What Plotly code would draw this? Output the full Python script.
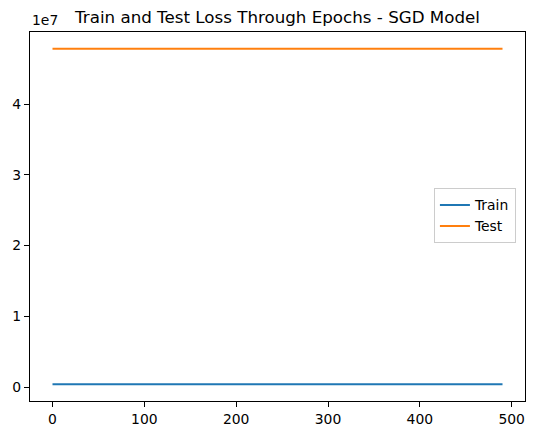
import plotly.graph_objects as go

epochs = [0, 10, 20, 30, 40, 50, 60, 70, 80, 90,
          100, 110, 120, 130, 140, 150, 160, 170, 180, 190,
          200, 210, 220, 230, 240, 250, 260, 270, 280, 290,
          300, 310, 320, 330, 340, 350, 360, 370, 380, 390,
          400, 410, 420, 430, 440, 450, 460, 470, 480, 490]
train_loss = [4.2e5, 4.2e5, 4.2e5, 4.2e5, 4.2e5, 4.2e5, 4.2e5, 4.2e5, 4.2e5, 4.2e5,
              4.2e5, 4.2e5, 4.2e5, 4.2e5, 4.2e5, 4.2e5, 4.2e5, 4.2e5, 4.2e5, 4.2e5,
              4.2e5, 4.2e5, 4.2e5, 4.2e5, 4.2e5, 4.2e5, 4.2e5, 4.2e5, 4.2e5, 4.2e5,
              4.2e5, 4.2e5, 4.2e5, 4.2e5, 4.2e5, 4.2e5, 4.2e5, 4.2e5, 4.2e5, 4.2e5,
              4.2e5, 4.2e5, 4.2e5, 4.2e5, 4.2e5, 4.2e5, 4.2e5, 4.2e5, 4.2e5, 4.2e5]
test_loss = [4.78e7, 4.78e7, 4.78e7, 4.78e7, 4.78e7, 4.78e7, 4.78e7, 4.78e7, 4.78e7, 4.78e7,
             4.78e7, 4.78e7, 4.78e7, 4.78e7, 4.78e7, 4.78e7, 4.78e7, 4.78e7, 4.78e7, 4.78e7,
             4.78e7, 4.78e7, 4.78e7, 4.78e7, 4.78e7, 4.78e7, 4.78e7, 4.78e7, 4.78e7, 4.78e7,
             4.78e7, 4.78e7, 4.78e7, 4.78e7, 4.78e7, 4.78e7, 4.78e7, 4.78e7, 4.78e7, 4.78e7,
             4.78e7, 4.78e7, 4.78e7, 4.78e7, 4.78e7, 4.78e7, 4.78e7, 4.78e7, 4.78e7, 4.78e7]
x_ticks = [0, 100, 200, 300, 400, 500]
y_ticks = [0, 1e7, 2e7, 3e7, 4e7]
y_tick_labels = ["0", "1", "2", "3", "4"]

FONT = "DejaVu Sans"
W, H = 534, 435
L, R, T, B = 30, 9, 32, 34

fig = go.Figure()
fig.add_trace(go.Scatter(x=epochs, y=train_loss, mode="lines", name="Train",
                         line=dict(color="#1f77b4", width=2)))
fig.add_trace(go.Scatter(x=epochs, y=test_loss, mode="lines", name="Test",
                         line=dict(color="#ff7f0e", width=2)))

xmin, xmax = min(epochs), max(epochs)
xpad = 0.05 * (xmax - xmin)
ymin, ymax = min(train_loss + test_loss), max(train_loss + test_loss)
ypad = 0.05 * (ymax - ymin)

axis_common = dict(showgrid=False, zeroline=False, showline=True, linecolor="black",
                   linewidth=1.1, mirror=True, ticks="outside", ticklen=5, tickwidth=1.1,
                   tickcolor="black", automargin=False,
                   tickfont=dict(family=FONT, size=13.9, color="black"))

fig.update_xaxes(range=[xmin - xpad, xmax + xpad], tickvals=x_ticks, **axis_common)
fig.update_yaxes(range=[ymin - ypad, ymax + ypad], tickvals=y_ticks, ticktext=y_tick_labels,
                 **axis_common)

fig.update_layout(
    width=W, height=H,
    margin=dict(l=L, r=R, t=T, b=B, pad=0, autoexpand=False),
    paper_bgcolor="white", plot_bgcolor="white",
    font=dict(family=FONT, color="black"),
    title=dict(text="Train and Test Loss Through Epochs - SGD Model",
               font=dict(family=FONT, size=16.7, color="black"),
               x=0.5, xref="paper", xanchor="center",
               y=1 - 17 / H, yref="container", yanchor="middle"),
    legend=dict(x=0.816, y=0.576, xanchor="left", yanchor="top",
                bgcolor="rgba(255,255,255,0.8)", bordercolor="#cccccc", borderwidth=1,
                font=dict(family=FONT, size=13.9, color="black"),
                itemwidth=30, tracegroupgap=0),
    showlegend=True,
)

fig.add_annotation(text="1e7", xref="paper", yref="paper", x=0, y=1,
                   xanchor="left", yanchor="bottom", yshift=2, showarrow=False,
                   font=dict(family=FONT, size=13.9, color="black"))

fig.write_html("out.html",
               config={"displayModeBar": False},
               post_script="document.body.style.margin='0';document.body.style.padding='0';"
                           "document.documentElement.style.overflow='hidden';")
